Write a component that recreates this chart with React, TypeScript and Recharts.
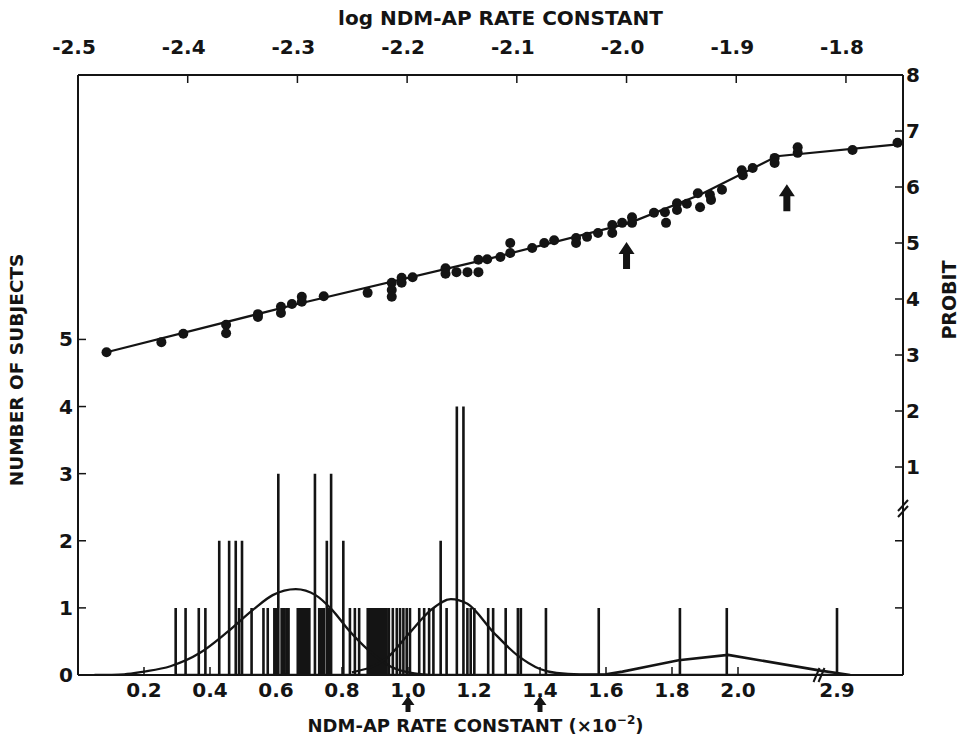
import React from 'react';
import { ComposedChart, XAxis, YAxis, Line, Scatter, ReferenceDot, Label } from 'recharts';

const INK = '#141414';
const FONT = '"DejaVu Sans", "Liberation Sans", sans-serif';

// bottom axis: NDM-AP rate constant (x10^-2), broken between 2.25 and 2.85
const rateTicks = [0.2, 0.4, 0.6, 0.8, 1.0, 1.2, 1.4, 1.6, 1.8, 2.0, 2.9];
const rateLabels = ['0.2', '0.4', '0.6', '0.8', '1.0', '1.2', '1.4', '1.6', '1.8', '2.0', '2.9'];
const CUT_LO = 2.25;
const CUT_HI = 2.85;
const ratePos = (k: number) => (k >= CUT_HI ? k - (CUT_HI - CUT_LO) : k);

// top axis: log NDM-AP rate constant
const logTicks = [-2.5, -2.4, -2.3, -2.2, -2.1, -2.0, -1.9, -1.8];
const logLabels = ['-2.5', '-2.4', '-2.3', '-2.2', '-2.1', '-2.0', '-1.9', '-1.8'];

const countTicks = [0, 1, 2, 3, 4, 5];
const probitTicks = [1, 2, 3, 4, 5, 6, 7, 8];
const lowerRightTicks = [1, 2]; // unlabelled right-hand ticks below the break (count scale)

const COUNT_MAX = 8.94;
const PROBIT_MIN = -2.714;
const PROBIT_MAX = 8;
const countToProbit = (c: number) => PROBIT_MIN + (c / COUNT_MAX) * (PROBIT_MAX - PROBIT_MIN);
const probitAxisTicks = [...lowerRightTicks.map(countToProbit), ...probitTicks];

// number of subjects at each rate constant (x10^-2)
const subjects = [
  { k: 0.296, n: 1 }, { k: 0.326, n: 1 }, { k: 0.366, n: 1 }, { k: 0.386, n: 1 },
  { k: 0.428, n: 2 }, { k: 0.458, n: 2 }, { k: 0.478, n: 2 }, { k: 0.488, n: 1 },
  { k: 0.497, n: 2 }, { k: 0.526, n: 1 }, { k: 0.562, n: 1 }, { k: 0.575, n: 1 },
  { k: 0.595, n: 1 }, { k: 0.602, n: 1 }, { k: 0.607, n: 3 }, { k: 0.617, n: 1 },
  { k: 0.624, n: 1 }, { k: 0.632, n: 1 }, { k: 0.638, n: 1 }, { k: 0.666, n: 1 },
  { k: 0.673, n: 1 }, { k: 0.68, n: 1 }, { k: 0.687, n: 1 }, { k: 0.694, n: 1 },
  { k: 0.701, n: 1 }, { k: 0.718, n: 3 }, { k: 0.731, n: 1 }, { k: 0.738, n: 1 },
  { k: 0.745, n: 1 }, { k: 0.754, n: 2 }, { k: 0.76, n: 1 }, { k: 0.767, n: 3 },
  { k: 0.804, n: 2 }, { k: 0.824, n: 1 }, { k: 0.839, n: 1 }, { k: 0.852, n: 1 },
  { k: 0.878, n: 1 }, { k: 0.885, n: 1 }, { k: 0.892, n: 1 }, { k: 0.899, n: 1 },
  { k: 0.906, n: 1 }, { k: 0.913, n: 1 }, { k: 0.92, n: 1 }, { k: 0.927, n: 1 },
  { k: 0.934, n: 1 }, { k: 0.942, n: 1 }, { k: 0.954, n: 1 }, { k: 0.966, n: 1 },
  { k: 0.976, n: 1 }, { k: 0.986, n: 1 }, { k: 0.996, n: 1 }, { k: 1.006, n: 1 },
  { k: 1.034, n: 1 }, { k: 1.049, n: 1 }, { k: 1.064, n: 1 }, { k: 1.077, n: 1 },
  { k: 1.099, n: 2 }, { k: 1.117, n: 1 }, { k: 1.148, n: 4 }, { k: 1.168, n: 4 },
  { k: 1.18, n: 1 }, { k: 1.19, n: 1 }, { k: 1.201, n: 1 }, { k: 1.243, n: 1 },
  { k: 1.258, n: 1 }, { k: 1.296, n: 1 }, { k: 1.333, n: 1 }, { k: 1.342, n: 1 },
  { k: 1.418, n: 1 }, { k: 1.578, n: 1 }, { k: 1.824, n: 1 }, { k: 1.966, n: 1 },
  { k: 2.9, n: 1 },
];
// each subject count drawn as a vertical stroke up from the baseline and back
const spikeTrain = subjects.flatMap((s) => [{ k: s.k, n: 0 }, { k: s.k, n: s.n }, { k: s.k, n: 0 }]);

// fitted distributions (count scale)
const fitLow = [
  { k: 0.05, n: 0 }, { k: 0.14, n: 0.01 }, { k: 0.2, n: 0.05 }, { k: 0.28, n: 0.13 },
  { k: 0.37, n: 0.33 }, { k: 0.45, n: 0.63 }, { k: 0.53, n: 0.97 }, { k: 0.59, n: 1.19 },
  { k: 0.66, n: 1.28 }, { k: 0.72, n: 1.19 }, { k: 0.77, n: 0.97 }, { k: 0.82, n: 0.67 },
  { k: 0.88, n: 0.37 }, { k: 0.95, n: 0.12 }, { k: 1.01, n: 0.03 }, { k: 1.06, n: 0 },
];
const fitHigh = [
  { k: 0.83, n: 0.04 }, { k: 0.94, n: 0.27 }, { k: 1.0, n: 0.6 }, { k: 1.07, n: 0.97 },
  { k: 1.13, n: 1.13 }, { k: 1.18, n: 1.06 }, { k: 1.26, n: 0.63 }, { k: 1.33, n: 0.3 },
  { k: 1.4, n: 0.09 }, { k: 1.45, n: 0.03 }, { k: 1.52, n: 0.01 }, { k: 1.6, n: 0.01 },
];
const fitTail = [
  { k: 1.6, n: 0.01 }, { k: 1.65, n: 0.05 }, { k: 1.73, n: 0.13 }, { k: 1.82, n: 0.22 },
  { k: 1.97, n: 0.3 }, { k: 2.25, n: 0.065 }, { k: 2.94, n: 0 },
];

// probit vs log rate constant
const probitPoints = [
  { log: -2.474, p: 3.05 }, { log: -2.424, p: 3.23 }, { log: -2.404, p: 3.38 },
  { log: -2.365, p: 3.54 }, { log: -2.365, p: 3.39 }, { log: -2.336, p: 3.73 },
  { log: -2.336, p: 3.68 }, { log: -2.315, p: 3.86 }, { log: -2.315, p: 3.75 },
  { log: -2.305, p: 3.91 }, { log: -2.296, p: 4.04 }, { log: -2.296, p: 3.95 },
  { log: -2.276, p: 4.05 }, { log: -2.236, p: 4.11 }, { log: -2.214, p: 4.29 },
  { log: -2.214, p: 4.16 }, { log: -2.214, p: 4.04 }, { log: -2.205, p: 4.38 },
  { log: -2.205, p: 4.29 }, { log: -2.195, p: 4.39 }, { log: -2.165, p: 4.55 },
  { log: -2.165, p: 4.45 }, { log: -2.155, p: 4.48 }, { log: -2.145, p: 4.48 },
  { log: -2.135, p: 4.7 }, { log: -2.135, p: 4.48 }, { log: -2.127, p: 4.71 },
  { log: -2.115, p: 4.75 }, { log: -2.106, p: 5.0 }, { log: -2.106, p: 4.82 },
  { log: -2.086, p: 4.91 }, { log: -2.075, p: 5.0 }, { log: -2.066, p: 5.05 },
  { log: -2.046, p: 5.09 }, { log: -2.046, p: 5.0 }, { log: -2.036, p: 5.11 },
  { log: -2.026, p: 5.18 }, { log: -2.013, p: 5.32 }, { log: -2.013, p: 5.18 },
  { log: -2.004, p: 5.36 }, { log: -1.995, p: 5.46 }, { log: -1.995, p: 5.36 },
  { log: -1.975, p: 5.54 }, { log: -1.965, p: 5.55 }, { log: -1.964, p: 5.36 },
  { log: -1.954, p: 5.71 }, { log: -1.954, p: 5.59 }, { log: -1.945, p: 5.7 },
  { log: -1.935, p: 5.89 }, { log: -1.933, p: 5.64 }, { log: -1.924, p: 5.86 },
  { log: -1.923, p: 5.77 }, { log: -1.913, p: 5.95 }, { log: -1.895, p: 6.3 },
  { log: -1.894, p: 6.21 }, { log: -1.885, p: 6.34 }, { log: -1.865, p: 6.52 },
  { log: -1.865, p: 6.43 }, { log: -1.844, p: 6.71 }, { log: -1.844, p: 6.61 },
  { log: -1.794, p: 6.66 }, { log: -1.753, p: 6.79 },
];
const probitFit = [
  { log: -2.474, p: 3.05 }, { log: -2.3, p: 3.91 }, { log: -2.125, p: 4.72 },
  { log: -1.997, p: 5.36 }, { log: -1.933, p: 5.86 }, { log: -1.863, p: 6.55 },
  { log: -1.753, p: 6.76 },
];

// arrows marking 1.0 and 1.4 (x10^-2)
const arrowRates = [1.0, 1.4];
const arrowProbit = [5.02, 6.05];
const BREAK_PROBIT = 0.25;

const axisLine = { stroke: INK, strokeWidth: 2 };
const tickText = { fontFamily: FONT, fontSize: 20, fontWeight: 'bold' as const, fill: INK };
const titleText = { fontFamily: FONT, fontSize: 20, fontWeight: 'bold' as const, fill: INK };

const nearest = (vals: number[], v: number) => {
  let best = 0;
  vals.forEach((t, i) => { if (Math.abs(t - v) < Math.abs(vals[best] - v)) best = i; });
  return best;
};

const rateTickPos = rateTicks.map(ratePos);

const BottomTick = (p: any) => {
  const i = nearest(rateTickPos, p.payload.value);
  return (
    <g>
      <line x1={p.x} x2={p.x} y1={p.y} y2={p.y - 8} stroke={INK} strokeWidth={1.5} />
      <text x={p.x} y={p.y + 22} textAnchor="middle" {...tickText}>{rateLabels[i]}</text>
    </g>
  );
};

const TopTick = (p: any) => {
  const i = nearest(logTicks, p.payload.value);
  return (
    <g>
      <line x1={p.x} x2={p.x} y1={p.y} y2={p.y + 8} stroke={INK} strokeWidth={1.5} />
      <text x={p.x - 4} y={p.y - 21} textAnchor="middle" {...tickText}>{logLabels[i]}</text>
    </g>
  );
};

const LeftTick = (p: any) => (
  <g>
    <line x1={p.x} x2={p.x + 8} y1={p.y} y2={p.y} stroke={INK} strokeWidth={1.5} />
    <text x={p.x - 5} y={p.y + 7} textAnchor="end" {...tickText}>{p.payload.value}</text>
  </g>
);

const RightTick = (p: any) => {
  const v = p.payload.value;
  const labelled = probitTicks.includes(v);
  return (
    <g>
      <line x1={p.x - 8} x2={p.x} y1={p.y} y2={p.y} stroke={INK} strokeWidth={1.5} />
      {labelled && <text x={p.x + 3} y={p.y + 7} textAnchor="start" {...tickText}>{v}</text>}
    </g>
  );
};

const upArrow = (len: number, headW: number, headH: number, shaftW: number, gap: number) => (p: any) => {
  const { cx, cy } = p;
  const t = cy + gap;
  const d = `M${cx},${t} L${cx + headW / 2},${t + headH} L${cx + shaftW / 2},${t + headH} L${cx + shaftW / 2},${t + len} ` +
    `L${cx - shaftW / 2},${t + len} L${cx - shaftW / 2},${t + headH} L${cx - headW / 2},${t + headH} Z`;
  return <path d={d} fill={INK} />;
};

const bottomBreak = (p: any) => {
  const { cx, cy } = p;
  return (
    <g stroke={INK} strokeWidth={2}>
      <line x1={cx - 7} y1={cy + 7} x2={cx - 1} y2={cy - 7} />
      <line x1={cx - 2} y1={cy + 7} x2={cx + 4} y2={cy - 7} />
    </g>
  );
};

const rightBreak = (p: any) => {
  const { cx, cy } = p;
  return (
    <g stroke={INK} strokeWidth={2}>
      <line x1={cx - 5} y1={cy + 2} x2={cx + 5} y2={cy - 9} />
      <line x1={cx - 5} y1={cy + 8} x2={cx + 5} y2={cy - 3} />
    </g>
  );
};

const dot = (p: any) => <circle cx={p.cx} cy={p.cy} r={5} fill={INK} />;

export default function App() {
  return (
    <div style={{ position: 'absolute', left: 0, top: 0 }}>
      <ComposedChart width={968} height={748} margin={{ top: 45, right: 35, bottom: 43, left: 38 }}>
        <XAxis
          xAxisId="bottom"
          type="number"
          dataKey={(d: any) => ratePos(d.k)}
          domain={[0, 2.5]}
          allowDataOverflow
          ticks={rateTickPos}
          interval={0}
          tickSize={0}
          tickMargin={0}
          height={30}
          axisLine={axisLine}
          tickLine={false}
          tick={BottomTick}
        >
          <Label
            content={(props: any) => {
              const vb = props.viewBox;
              return (
                <text x={vb.x + vb.width / 2 - 15} y={vb.y + 57} textAnchor="middle" {...titleText} fontSize={18}>
                  NDM-AP RATE CONSTANT (×10<tspan dy={-8} fontSize={12}>−2</tspan><tspan dy={8}>)</tspan>
                </text>
              );
            }}
          />
        </XAxis>
        <XAxis
          xAxisId="top"
          orientation="top"
          type="number"
          dataKey="log"
          domain={[-2.5, -1.748]}
          allowDataOverflow
          ticks={logTicks}
          interval={0}
          tickSize={0}
          tickMargin={0}
          height={30}
          axisLine={axisLine}
          tickLine={false}
          tick={TopTick}
        >
          <Label
            content={(props: any) => {
              const vb = props.viewBox;
              return (
                <text x={vb.x + vb.width / 2 + 10} y={vb.y - 20} textAnchor="middle" {...titleText}>
                  log NDM-AP RATE CONSTANT
                </text>
              );
            }}
          />
        </XAxis>
        <YAxis
          yAxisId="count"
          type="number"
          domain={[0, COUNT_MAX]}
          allowDataOverflow
          ticks={countTicks}
          interval={0}
          tickSize={0}
          tickMargin={0}
          width={40}
          axisLine={axisLine}
          tickLine={false}
          tick={LeftTick}
        >
          <Label
            content={(props: any) => {
              const vb = props.viewBox;
              return (
                <text
                  transform={`translate(${vb.x - 20}, ${vb.y + vb.height / 2 - 5}) rotate(-90)`}
                  textAnchor="middle"
                  dominantBaseline="middle"
                  {...titleText}
                  fontSize={18.5}
                >
                  NUMBER OF SUBJECTS
                </text>
              );
            }}
          />
        </YAxis>
        <YAxis
          yAxisId="probit"
          orientation="right"
          type="number"
          dataKey="p"
          domain={[PROBIT_MIN, PROBIT_MAX]}
          allowDataOverflow
          ticks={probitAxisTicks}
          interval={0}
          tickSize={0}
          tickMargin={0}
          width={30}
          axisLine={axisLine}
          tickLine={false}
          tick={RightTick}
        >
          <Label
            content={(props: any) => {
              const vb = props.viewBox;
              return (
                <text
                  transform={`translate(${vb.x + vb.width + 17}, ${vb.y + vb.height * 0.375}) rotate(-90)`}
                  textAnchor="middle"
                  dominantBaseline="middle"
                  {...titleText}
                  fontSize={19}
                >
                  PROBIT
                </text>
              );
            }}
          />
        </YAxis>

        <Line xAxisId="bottom" yAxisId="count" data={spikeTrain} dataKey="n" type="linear" dot={false}
          stroke={INK} strokeWidth={2.6} strokeLinejoin="bevel" isAnimationActive={false} />

        <Line xAxisId="bottom" yAxisId="count" data={fitLow} dataKey="n" type="monotone" dot={false}
          stroke={INK} strokeWidth={2.3} isAnimationActive={false} />
        <Line xAxisId="bottom" yAxisId="count" data={fitHigh} dataKey="n" type="monotone" dot={false}
          stroke={INK} strokeWidth={2.3} isAnimationActive={false} />
        <Line xAxisId="bottom" yAxisId="count" data={fitTail} dataKey="n" type="linear" dot={false}
          stroke={INK} strokeWidth={2.6} isAnimationActive={false} />

        <Line xAxisId="top" yAxisId="probit" data={probitFit} dataKey="p" type="linear" dot={false}
          stroke={INK} strokeWidth={2.2} isAnimationActive={false} />
        <Scatter xAxisId="top" yAxisId="probit" data={probitPoints} fill={INK} shape={dot} isAnimationActive={false} />

        {arrowRates.map((r, i) => (
          <ReferenceDot key={`ta${i}`} xAxisId="top" yAxisId="probit" x={Math.log10(r * 1e-2)} y={arrowProbit[i]}
            shape={upArrow(27, 16, 12, 7, 0)} />
        ))}
        {arrowRates.map((r, i) => (
          <ReferenceDot key={`ba${i}`} xAxisId="bottom" yAxisId="count" x={ratePos(r)} y={0}
            shape={upArrow(16, 13, 9, 5, 21)} />
        ))}

        <ReferenceDot xAxisId="bottom" yAxisId="count" x={CUT_LO} y={0} shape={bottomBreak} />
        <ReferenceDot xAxisId="bottom" yAxisId="probit" x={2.5} y={BREAK_PROBIT} shape={rightBreak} />
      </ComposedChart>
    </div>
  );
}
